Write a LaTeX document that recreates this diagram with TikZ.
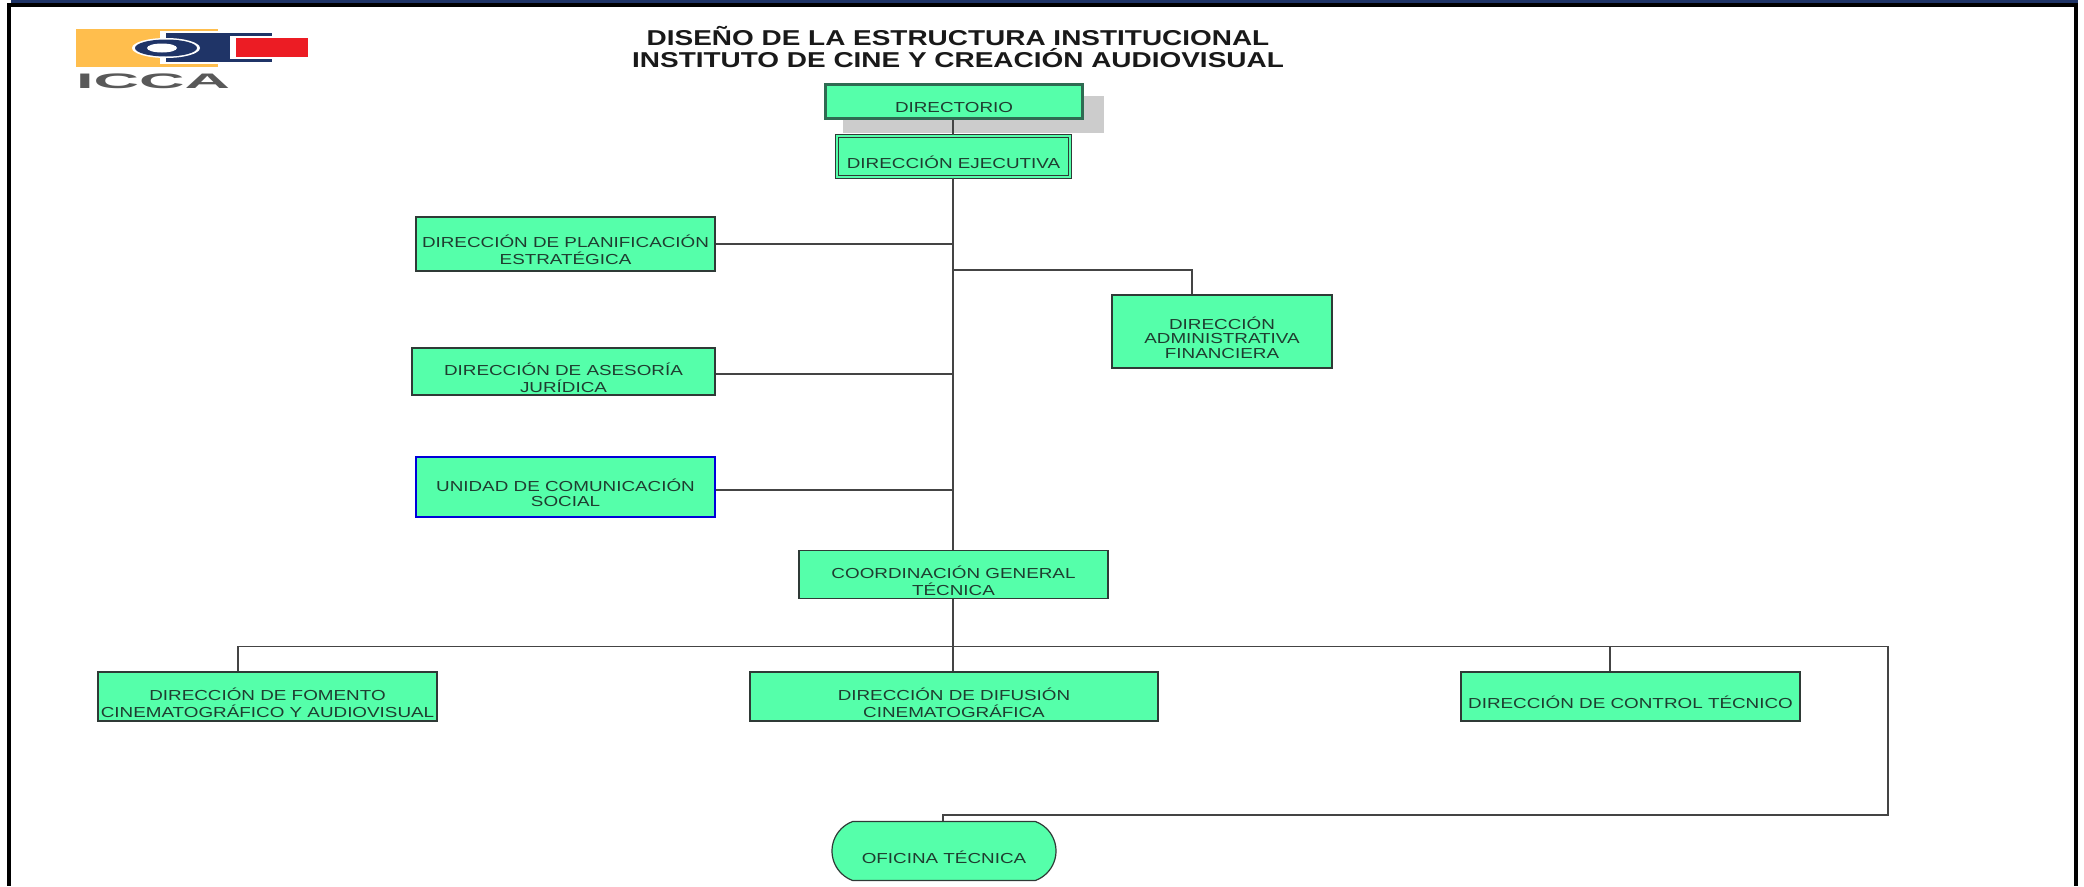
\documentclass[tikz,border=0pt]{standalone}
\usepackage{fontspec}
\setmainfont[FakeStretch=1.3]{Liberation Sans}
\newfontfamily\logofont[FakeStretch=3.0]{Liberation Sans}
\usetikzlibrary{shapes.misc}
\definecolor{boxfill}{HTML}{55FFAA}
\definecolor{boxline}{HTML}{2F3A36}
\definecolor{deepline}{HTML}{2F6B52}
\definecolor{txt}{HTML}{1F3D30}
\definecolor{conn}{HTML}{444444}
\definecolor{navy}{HTML}{1F3467}
\definecolor{logoorange}{HTML}{FFBE4D}
\definecolor{logored}{HTML}{EC1C24}
\newcommand\boxtext[1]{\raisebox{-11.6pt}[0pt][0pt]{\begin{tabular}{@{}c@{}}#1\end{tabular}}}
\tikzset{
  org/.style={draw=boxline,line width=1.2pt,fill=boxfill,rectangle,inner sep=0pt,text=txt,
    font=\fontsize{14.5}{14.6}\selectfont},
  link/.style={draw=conn,line width=1.4pt},
  headline/.style={inner sep=0pt,text=black!90,font=\bfseries\fontsize{21.5}{21.5}\selectfont},
}
\begin{document}
\begin{tikzpicture}[x=1pt,y=-1pt]
\useasboundingbox (0,0) rectangle (2084,886);
% frame
\fill[white] (0,0) rectangle (2084,886);
\fill[black] (7,3) rectangle (11,886);
\fill[black] (2074,3) rectangle (2078,886);
\fill[black] (7,3) rectangle (2078,7);
\fill[navy] (11,0) rectangle (2078,3);
% logo
\fill[logoorange] (76,29) rectangle (218,67);
\fill[white] (160,31) rectangle (276,64);
\fill[navy] (166,33) rectangle (272,62);
\fill[white] (230,36) rectangle (276,59);
\fill[logored] (236,38) rectangle (308,57);
\fill[white] (166,48) ellipse [x radius=34,y radius=10];
\fill[navy] (166,48) ellipse [x radius=31,y radius=8.5];
\fill[white] (162,48) ellipse [x radius=15,y radius=4.5];
\node[anchor=base west,inner sep=0pt,text=black!65,font=\logofont\bfseries\fontsize{21}{21}\selectfont] (icca) at (76,88) {ICCA};
% titles
\node[headline] (t1) at (958,36) {DISEÑO DE LA ESTRUCTURA INSTITUCIONAL};
\node[headline] (t2) at (958,58) {INSTITUTO DE CINE Y CREACIÓN AUDIOVISUAL};
% shadow
\fill[black!20] (843,96) rectangle (1104,133);
% boxes
\node[org,line width=3pt,draw=deepline,minimum width=257,minimum height=34] (dir) at (954,101.5) {\boxtext{DIRECTORIO}};
\node[org,double=boxfill,double distance=1.6pt,line width=1.2pt,minimum width=233,minimum height=41] (eje) at (953.5,156.5) {\boxtext{DIRECCIÓN EJECUTIVA}};
\node[org,minimum width=299,minimum height=54] (plan) at (565.5,244) {\boxtext{DIRECCIÓN DE PLANIFICACIÓN\\ESTRATÉGICA}};
\node[org,minimum width=303,minimum height=47] (ases) at (563.5,371.5) {\boxtext{DIRECCIÓN DE ASESORÍA\\JURÍDICA}};
\node[org,draw=blue!85!black,minimum width=299,minimum height=60] (unid) at (565.5,487) {\boxtext{UNIDAD DE COMUNICACIÓN\\SOCIAL}};
\node[org,minimum width=220,minimum height=73] (admin) at (1222,331.5) {\boxtext{DIRECCIÓN\\ADMINISTRATIVA\\FINANCIERA}};
\node[org,minimum width=309,minimum height=48] (coor) at (953.5,574.5) {\boxtext{COORDINACIÓN GENERAL\\TÉCNICA}};
\node[org,minimum width=339,minimum height=49] (fom) at (267.5,696.5) {\boxtext{DIRECCIÓN DE FOMENTO\\CINEMATOGRÁFICO Y AUDIOVISUAL}};
\node[org,minimum width=408,minimum height=49] (dif) at (954,696.5) {\boxtext{DIRECCIÓN DE DIFUSIÓN\\CINEMATOGRÁFICA}};
\node[org,minimum width=339,minimum height=49] (ctrl) at (1630.5,696.5) {\boxtext{DIRECCIÓN DE CONTROL TÉCNICO}};
\node[org,rounded rectangle,rounded rectangle arc length=140,minimum width=224,minimum height=59] (ofi) at (944,851) {\boxtext{OFICINA TÉCNICA}};
% junction points
\coordinate (spine) at (953,200);
\coordinate (admtap) at (953,270);
\coordinate (adminx) at (1192,270);
\coordinate (busL) at (238,646.5);
\coordinate (busC) at (953,646.5);
\coordinate (busC2) at (1610,646.5);
\coordinate (busR) at (1888,646.5);
\coordinate (busRb) at (1888,815);
\coordinate (ofiT) at (943,815);
% connectors
\draw[link] (dir.south -| spine) -- (eje.north -| spine);
\draw[link] (eje.south -| spine) -- (coor.north -| spine);
\draw[link] (plan.east) -- (plan.east -| spine);
\draw[link] (ases.east |- 0,374) -- (spine |- 0,374);
\draw[link] (unid.east |- 0,490) -- (spine |- 0,490);
\draw[link] (admtap) -- (adminx) -- (adminx |- admin.north);
\draw[link] (coor.south -| busC) -- (dif.north -| busC);
\draw[link] (busL |- fom.north) -- (busL) -- (busR) -- (busRb) -- (ofiT) -- (ofiT |- ofi.north);
\draw[link] (busC2) -- (busC2 |- ctrl.north);
\end{tikzpicture}
\end{document}
